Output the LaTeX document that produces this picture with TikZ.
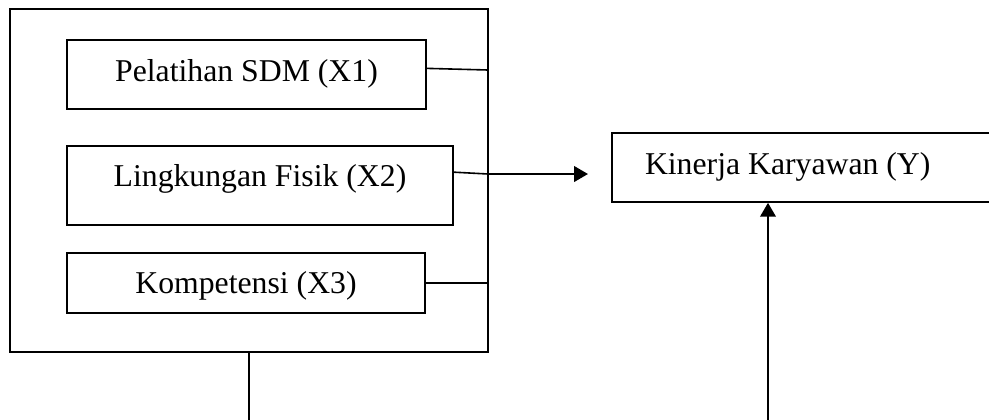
\documentclass[tikz,border=0pt]{standalone}
\usepackage{fontspec}
\setmainfont{Liberation Serif}
\usetikzlibrary{arrows.meta}
\begin{document}
\begin{tikzpicture}[x=0.375pt,y=-0.375pt,
  thinline/.style={line width=0.6pt},
  boldline/.style={line width=0.85pt},
  varbox/.style={draw, line width=0.6pt, inner xsep=0pt, inner ysep=0pt,
    font=\fontsize{11.9}{14}\selectfont},
  tip/.style={-{Triangle[length=5.2pt,width=5.8pt]}}]
\useasboundingbox (0,0) rectangle (989,419);
\clip (0,0) rectangle (989,419);
\node[draw, line width=0.6pt, minimum width=179.25pt, minimum height=128.625pt, inner sep=0pt] (outer) at (249,180.5) {};
\node[varbox, minimum width=134.625pt, text height=15.375pt, text depth=10.5pt] (b1) at (246.5,74.5) {Pelatihan SDM (X1)};
\node[varbox, minimum width=144.75pt, text height=15pt, text depth=14.625pt] (b2) at (260,185.5) {Lingkungan Fisik (X2)};
\node[varbox, minimum width=134.25pt, text height=15pt, text depth=7.5pt] (b3) at (246,283) {Kompetensi (X3)};
\node[varbox, text width=120.75pt, inner xsep=12.375pt, align=flush left, text height=15.375pt, text depth=10.5pt] (y) at (806,167.5) {Kinerja Karyawan (Y)};
\coordinate (j1) at (488,70);
\coordinate (j2) at (488,174);
\coordinate (tipY) at (588,174);
\coordinate (botR) at (768,425);
\draw[thinline] ([yshift=2.3pt]b1.east) -- (j1);
\draw[thinline] ([yshift=5pt]b2.east) -- (j2);
\draw[thinline] (b3.east) -- (outer.east |- b3.east);
\draw[boldline, tip] (j2) -- (tipY);
\draw[thinline] (outer.south) -- ++(0,80);
\draw[boldline, tip] (botR) -- (botR |- y.south);
\end{tikzpicture}
\end{document}
